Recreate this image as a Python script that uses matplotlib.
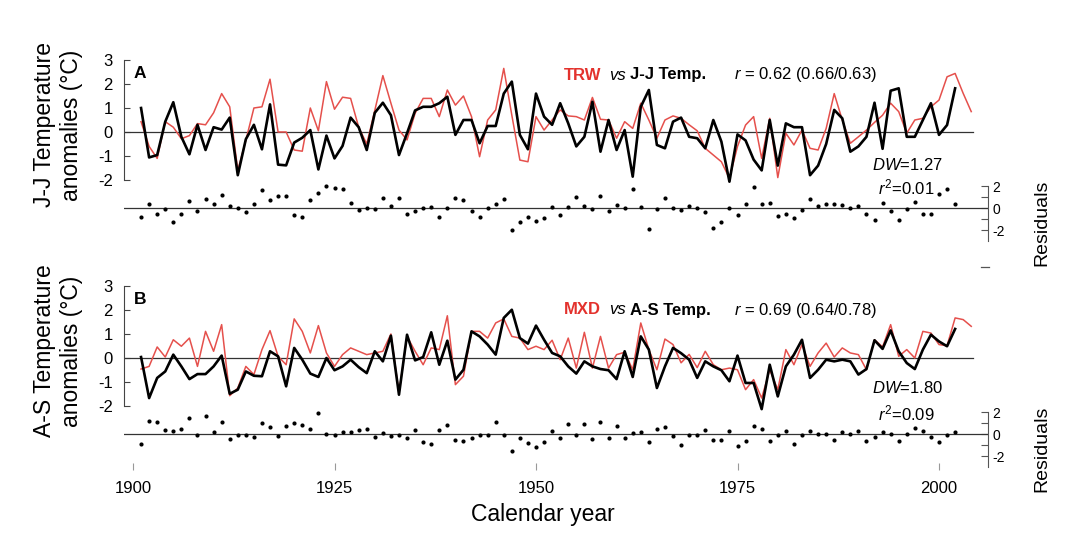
import matplotlib.pyplot as plt
from matplotlib.lines import Line2D

plt.rcParams['font.family'] = ['Liberation Sans', 'DejaVu Sans']
plt.rcParams['mathtext.fontset'] = 'custom'
plt.rcParams['mathtext.rm'] = 'Liberation Sans'
plt.rcParams['mathtext.it'] = 'Liberation Sans:italic'
plt.rcParams['axes.unicode_minus'] = False

# ---- data ----
years_temp = list(range(1901, 2003))   # instrumental temperature + residuals
years_proxy = list(range(1901, 2005))  # tree-ring proxy

# A: June-July temperature (black) and TRW (red)
jj_temp = [
    1.0, -1.06, -0.96, 0.43, 1.24, -0.2, -0.93, 0.3, -0.75, 0.2,
    0.1, 0.6, -1.8, -0.3, 0.3, -0.72, 1.15, -1.36, -1.39, -0.44,
    -0.24, 0.08, -1.56, -0.15, -1.1, -0.58, 0.6, 0.2, -0.75, 0.8,
    1.22, 0.7, -0.96, -0.05, 0.9, 1.05, 1.05, 1.2, 1.47, -0.12,
    0.5, 0.5, -0.47, 0.25, 0.25, 1.6, 2.1, -0.12, -0.72, 1.6,
    0.64, 0.3, 1.2, 0.36, -0.6, -0.2, 1.26, -0.82, 0.5, -0.75,
    0.08, -1.86, 1.05, 1.75, -0.54, -0.68, 0.43, 0.6, -0.2, -0.26,
    -0.68, 0.5, -0.4, -2.07, -0.1, -0.35, -1.15, -1.6, 0.5, -1.4,
    0.36, 0.2, 0.2, -1.8, -1.4, -0.5, 0.92, 0.57, -0.82, -0.6,
    -0.2, 1.22, -0.7, 1.72, 1.82, -0.2, -0.2, 0.5, 1.2, -0.12,
    0.29, 1.82]
trw = [
    0.43, -0.6, -1.1, 0.43, 0.2, -0.28, -0.15, 0.35, 0.3, 0.8,
    1.6, 1.05, -1.6, -0.35, 1.0, 1.05, 2.2, 0.0, 0.0, -0.75,
    -0.8, 1.0, 0.05, 2.1, 0.95, 1.45, 1.4, 0.2, -0.5, 0.9,
    2.35, 1.2, 0.08, -0.33, 0.78, 1.4, 1.4, 0.64, 1.75, 1.12,
    1.5, 0.64, -1.03, 0.5, 0.92, 2.65, 0.7, -1.17, -1.24, 0.64,
    0.08, 0.5, 0.92, 0.67, 0.64, 0.5, 1.44, 0.53, 0.5, -0.26,
    0.43, 0.15, 1.2, 0.5, -0.26, 0.5, 0.67, 0.57, 0.3, 0.05,
    -0.68, -0.96, -1.24, -1.93, -0.6, 0.29, 0.64, -1.1, 0.57, -1.9,
    -0.05, -0.54, 0.08, -0.68, -0.75, 0.15, 1.6, 0.5, -0.47, -0.2,
    0.08, 0.4, 0.7, 1.2, 0.85, -0.05, 0.5, 0.57, 1.05, 1.33,
    2.3, 2.44, 1.61, 0.85]
resid_a = [
    -0.85, 0.4, -0.5, -0.1, -1.3, -0.5, 0.65, -0.3, 0.85, 0.4,
    1.2, 0.2, 0.0, -0.4, 0.4, 1.6, 0.75, 1.05, 1.1, -0.6,
    -0.8, 0.7, 1.35, 2.0, 1.8, 1.7, 0.5, -0.2, 0.0, -0.05,
    0.9, 0.2, 0.9, -0.5, -0.25, 0.0, 0.1, -0.85, 0.0, 0.9,
    0.7, -0.25, -0.85, 0.0, 0.4, 0.85, -2.0, -1.3, -0.8, -1.2,
    -0.9, 0.1, -0.6, 0.1, 1.0, 0.2, -0.1, 1.1, -0.3, 0.25,
    0.0, 1.7, 0.1, -1.9, -0.1, 0.9, 0.0, -0.2, 0.2, 0.0,
    -0.4, -1.85, -1.3, 0.0, -0.6, 0.4, 1.9, 0.35, 0.5, -0.7,
    -0.5, -0.9, -0.15, 0.85, 0.2, 0.35, 0.4, 0.25, 0.0, 0.2,
    -0.55, -1.05, 0.5, -0.3, -1.05, -0.05, 0.55, -0.55, -0.5, 1.3,
    1.7, 0.35]

# B: August-September temperature (black) and MXD (red)
as_temp = [
    0.04, -1.67, -0.83, -0.56, 0.14, -0.35, -0.88, -0.67, -0.67, -0.35,
    0.1, -1.49, -1.32, -0.56, -0.74, -0.76, 0.28, 0.07, -1.18, 0.42,
    -0.07, -0.65, -0.79, 0.0, -0.51, -0.35, -0.07, -0.38, -0.63, 0.28,
    -0.14, 0.93, -1.53, 0.97, -0.1, 0.04, 1.07, -0.28, 0.72, -0.9,
    -0.49, 1.11, 0.9, 0.56, 0.14, 1.67, 2.01, 0.83, 0.6, 1.35,
    0.76, 0.21, 0.07, -0.35, -0.65, -0.14, -0.35, -0.46, -0.51, -0.88,
    0.28, -0.79, 0.9, 0.35, -1.25, -0.35, 0.42, 0.2, -0.07, -0.83,
    -0.14, -0.35, -0.51, -0.97, 0.1, -1.04, -1.04, -2.13, -0.28, -1.6,
    -0.35, 0.14, 0.76, -0.83, -0.49, -0.07, -0.14, -0.07, -0.14, -0.69,
    -0.46, 0.74, 0.38, 1.15, 0.28, -0.21, -0.46, 0.35, 0.97, 0.69,
    0.49, 1.21]
mxd = [
    -0.46, -0.35, 0.46, 0.04, 0.76, 0.49, 0.83, -0.35, 1.11, 0.28,
    1.39, -1.57, -1.25, -0.35, -0.69, 0.35, 1.14, 0.07, -0.28, 1.63,
    1.11, 0.21, 1.35, 0.21, -0.35, 0.14, 0.42, 0.28, 0.14, 0.21,
    0.28, 1.0, -1.46, 0.9, 0.28, -0.28, 0.42, 0.35, 1.76, -1.11,
    -0.76, 1.11, 1.11, 0.83, 1.46, 1.63, 0.9, 0.83, 0.35, 0.49,
    0.35, 0.74, -0.07, 0.83, -0.42, 1.07, -0.42, 0.9, -0.42, 0.14,
    0.24, -0.49, 1.46, 0.35, -0.49, 0.79, 0.56, -0.2, 0.15, -0.4,
    0.28, -0.28, -0.49, -0.42, -0.49, -1.32, -0.9, -1.67, -0.49, -1.32,
    0.35, -0.28, 0.56, -0.35, 0.21, 0.62, 0.04, 0.42, 0.21, 0.14,
    -0.49, 0.76, 0.46, 1.39, 0.07, 0.35, 0.0, 1.11, 1.04, 0.56,
    0.51, 1.67, 1.6, 1.32]
resid_b = [
    -0.9, 1.15, 1.06, 0.33, 0.3, 0.45, 1.45, -0.06, 1.6, 0.15,
    1.06, -0.45, -0.12, -0.12, -0.3, 1.0, 0.6, -0.15, 0.7, 1.0,
    0.82, 0.5, 1.9, 0.0, -0.12, 0.2, 0.15, 0.4, 0.45, -0.3,
    0.1, -0.15, -0.12, -0.36, 0.33, -0.73, -0.9, 0.4, 0.8, -0.5,
    -0.67, -0.36, -0.06, -0.12, 1.06, -0.12, -1.58, -0.36, -0.82, -1.18,
    -0.76, 0.24, -0.4, 0.94, -0.1, 0.94, -0.45, 1.12, -0.36, 0.76,
    -0.36, 0.1, 0.15, -0.7, 0.45, 0.64, -0.2, -1.0, -0.06, -0.06,
    0.4, -0.5, -0.5, 0.3, -1.1, -0.67, 0.7, 0.45, -0.67, -0.12,
    0.27, -0.88, -0.12, 0.27, 0.03, 0.03, -0.5, 0.15, 0.0, 0.3,
    -0.6, -0.25, 0.18, 0.0, -0.67, -0.03, 0.55, 0.3, -0.3, -0.73,
    -0.12, 0.15]

x_ticks = [1900, 1925, 1950, 1975, 2000]

RED_LINE = '#e5504c'
RED_TEXT = '#e3322d'

W, H = 1080, 539
fig = plt.figure(figsize=(W / 100, H / 100), dpi=100)

# pixel geometry: 1900 at x=133, 8.06 px per year, axes from x=124 to 988
XL = 1900 + (124 - 133) / 8.06
XR = 1900 + (988 - 133) / 8.06


def rect(x0, y0, x1, y1):
    return [x0 / W, 1 - y1 / H, (x1 - x0) / W, (y1 - y0) / H]


def ftext(x, y, s, **kw):
    return fig.text(x / W, 1 - y / H, s, **kw)


def panel(z, temp, proxy, resid, letter, proxy_name, temp_name, r_txt,
          title_y, dw_txt, dw_y, r2_txt, ylabel, bottom):
    # temperature axes (24 px per degree, zero at pixel row z)
    ax = fig.add_axes(rect(124, z - 77, 988, z + 53))
    ax.set_xlim(XL, XR)
    ax.set_ylim(-53 / 24, 77 / 24)
    ax.patch.set_visible(False)
    for s in ['top', 'right', 'bottom']:
        ax.spines[s].set_visible(False)
    ax.spines['left'].set_bounds(-2, 3)
    ax.spines['left'].set_color('#444444')
    ax.set_yticks([-2, -1, 0, 1, 2, 3])
    ax.set_yticklabels(['-2', '-1', '0', '1', '2', '3'])
    ax.tick_params(axis='y', direction='in', length=4, width=0.8,
                   color='#444444', labelsize=12, pad=8)
    ax.set_xticks([])
    ax.axhline(0, xmin=0, xmax=(973 - 124) / 864, color='#333333', lw=0.9)
    ax.plot(years_proxy, proxy, color=RED_LINE, lw=1.1)
    ax.plot(years_temp, temp, color='black', lw=1.9)

    # residual axes (11 px per unit, zero at pixel row z+76)
    rax = fig.add_axes(rect(124, z + 48, 988, z + 112))
    rax.set_xlim(XL, XR)
    rax.set_ylim(-36 / 11, 28 / 11)
    rax.patch.set_visible(False)
    for s in ['top', 'left', 'bottom']:
        rax.spines[s].set_visible(False)
    rax.spines['right'].set_bounds(-3, 2)
    rax.spines['right'].set_color('#555555')
    rax.spines['right'].set_linewidth(0.8)
    rax.yaxis.tick_right()
    rax.set_yticks([-2, -1, 0, 1, 2])
    rax.set_yticklabels(['-2', '', '0', '', '2'])
    rax.tick_params(axis='y', direction='in', length=5, width=0.8,
                    color='#555555', labelsize=10, pad=3)
    rax.axhline(0, color='#333333', lw=0.9)
    rax.plot(years_temp, resid, 'o', color='black', ms=3.0, mec='none')
    if bottom:
        rax.set_xticks(x_ticks)
        rax.tick_params(axis='x', direction='in', length=5, width=0.8,
                        color='#999999', labelsize=12, pad=8)
    else:
        rax.set_xticks([])

    # annotations
    ftext(134, z - 59, letter, fontsize=12.5, fontweight='bold', va='center')
    ftext(564, title_y, proxy_name, fontsize=12, fontweight='bold',
          color=RED_TEXT, va='center')
    ftext(609, title_y, 'vs', fontsize=12, style='italic', va='center')
    ftext(630, title_y, temp_name, fontsize=12, fontweight='bold', va='center')
    ftext(734, title_y, r_txt, fontsize=12, va='center')
    ftext(872, dw_y, dw_txt, fontsize=12, va='center')
    ftext(878, z + 55, r2_txt, fontsize=12, va='center')
    ftext(58, z - 7, ylabel, fontsize=16.5, rotation=90, ha='center',
          va='center', multialignment='center', linespacing=1.25)
    ftext(1042, z + 91, 'Residuals', fontsize=14, rotation=90,
          ha='center', va='center')
    return ax, rax


panel(132, jj_temp, trw, resid_a, 'A', 'TRW', 'J-J Temp.',
      r'$r$ = 0.62 (0.66/0.63)', 75, r'$DW$=1.27', 165, r'$r^2$=0.01',
      'J-J Temperature\nanomalies (\u00b0C)', False)
panel(358, as_temp, mxd, resid_b, 'B', 'MXD', 'A-S Temp.',
      r'$r$ = 0.69 (0.64/0.78)', 310, r'$DW$=1.80', 388, r'$r^2$=0.09',
      'A-S Temperature\nanomalies (\u00b0C)', True)

# stray tick mark below panel A residual axis
fig.add_artist(Line2D([981 / W, 989 / W], [1 - 267 / H, 1 - 267 / H],
                      transform=fig.transFigure, color='#555555', lw=0.9))

ftext(543, 514, 'Calendar year', fontsize=16.5, ha='center', va='center')

fig.savefig('out.png', dpi=100)
